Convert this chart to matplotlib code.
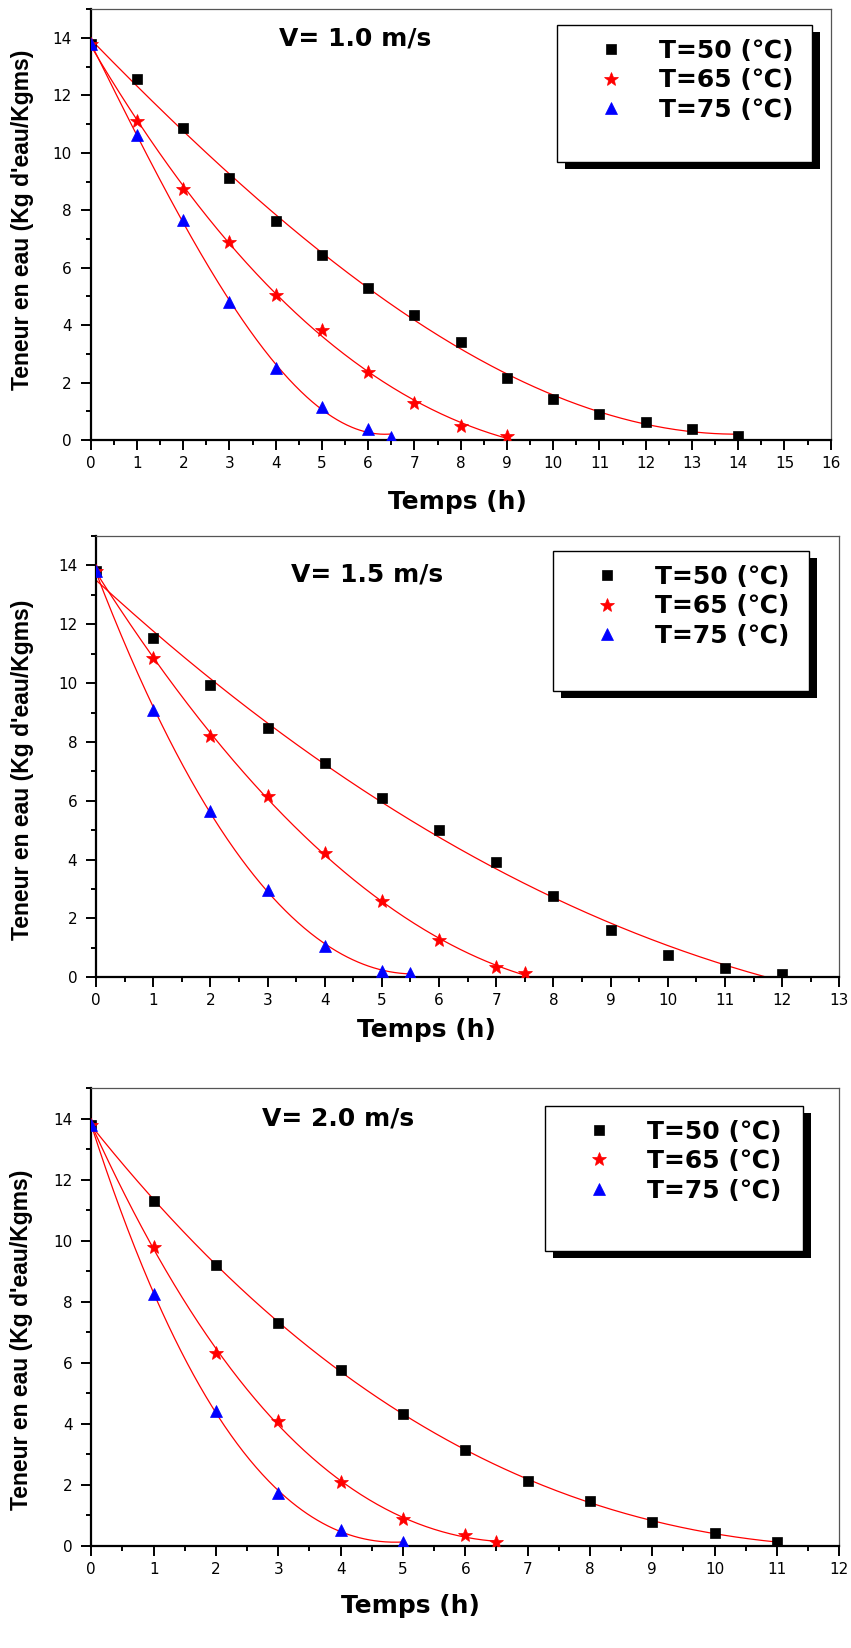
import numpy as np
import matplotlib.pyplot as plt
from matplotlib.patches import Rectangle
from matplotlib.transforms import Affine2D

W, H = 851, 1648

# drying kinetics, V = 1.0 m/s
t1_50 = [0, 1, 2, 3, 4, 5, 6, 7, 8, 9, 10, 11, 12, 13, 14]
x1_50 = [13.8, 12.58, 10.87, 9.14, 7.64, 6.46, 5.31, 4.34, 3.42, 2.17, 1.42, 0.89, 0.62, 0.39, 0.15]
t1_65 = [0, 1, 2, 3, 4, 5, 6, 7, 8, 9]
x1_65 = [13.8, 11.1, 8.74, 6.89, 5.05, 3.83, 2.38, 1.28, 0.50, 0.15]
t1_75 = [0, 1, 2, 3, 4, 5, 6, 6.5]
x1_75 = [13.8, 10.63, 7.65, 4.81, 2.52, 1.14, 0.37, 0.12]

# V = 1.5 m/s
t2_50 = [0, 1, 2, 3, 4, 5, 6, 7, 8, 9, 10, 11, 12]
x2_50 = [13.8, 11.53, 9.92, 8.49, 7.27, 6.10, 4.99, 3.93, 2.77, 1.60, 0.77, 0.33, 0.11]
t2_65 = [0, 1, 2, 3, 4, 5, 6, 7, 7.5]
x2_65 = [13.8, 10.87, 8.19, 6.15, 4.22, 2.59, 1.27, 0.34, 0.14]
t2_75 = [0, 1, 2, 3, 4, 5, 5.5]
x2_75 = [13.8, 9.09, 5.65, 2.97, 1.08, 0.23, 0.14]

# V = 2.0 m/s
t3_50 = [0, 1, 2, 3, 4, 5, 6, 7, 8, 9, 10, 11]
x3_50 = [13.8, 11.32, 9.21, 7.32, 5.78, 4.33, 3.15, 2.14, 1.46, 0.79, 0.44, 0.12]
t3_65 = [0, 1, 2, 3, 4, 5, 6, 6.5]
x3_65 = [13.8, 9.79, 6.34, 4.11, 2.09, 0.89, 0.36, 0.12]
t3_75 = [0, 1, 2, 3, 4, 5]
x3_75 = [13.8, 8.26, 4.44, 1.73, 0.52, 0.12]

labels = ["T=50 (\u2103)", "T=65 (\u2103)", "T=75 (\u2103)"]
titles = ["V= 1.0 m/s", "V= 1.5 m/s", "V= 2.0 m/s"]
xmax = [16, 13, 12]

series = [
    [(t1_50, x1_50), (t1_65, x1_65), (t1_75, x1_75)],
    [(t2_50, x2_50), (t2_65, x2_65), (t2_75, x2_75)],
    [(t3_50, x3_50), (t3_65, x3_65), (t3_75, x3_75)],
]

# layout in pixels (left, top, right, bottom), origin top-left
ax_box = [(90.7, 9.3, 830.7, 440), (96, 536, 839.3, 977.3), (91.3, 1088.3, 839.3, 1546)]
title_xy = [(355, 38), (367, 574), (338.5, 1118.5)]
ylab_xy = [(23, 220), (22.5, 769.5), (22, 1340)]
xlab_xy = [(457.5, 502), (426.5, 1030), (410, 1606)]
leg_box = [(556.7, 25, 811.7, 162), (552.7, 551, 809, 691), (545, 1105.7, 802.7, 1250.7)]

styles = [
    dict(marker="s", color="black", ms=7),
    dict(marker="*", color="red", ms=10),
    dict(marker="^", color="blue", ms=8.5),
]

fig = plt.figure(figsize=(W / 100, H / 100), dpi=100)
pix = Affine2D().scale(1 / W, -1 / H).translate(0, 1) + fig.transFigure

for i in range(3):
    l, t, r, b = ax_box[i]
    ax = fig.add_axes([l / W, 1 - b / H, (r - l) / W, (b - t) / H])

    handles = []
    for (tt, xx), st, lab in zip(series[i], styles, labels):
        h, = ax.plot(tt, xx, linestyle="none", marker=st["marker"], color=st["color"],
                     markersize=st["ms"], markeredgewidth=0.5, label=lab, zorder=3)
        handles.append(h)
        # third-order polynomial fit of each drying curve
        coef = np.polyfit(tt, xx, 3)
        tf = np.linspace(0, tt[-1], 300)
        ax.plot(tf, np.polyval(coef, tf), color="red", lw=0.9, zorder=2)

    ax.set_xlim(0, xmax[i])
    ax.set_ylim(0, 15)
    ax.set_xticks(np.arange(0, xmax[i] + 1, 1))
    ax.set_xticks(np.arange(0.5, xmax[i], 1), minor=True)
    ax.set_yticks([0, 2, 4, 6, 8, 10, 12, 14])
    ax.set_yticks([1, 3, 5, 7, 9, 11, 13, 15], minor=True)
    ax.tick_params(which="major", direction="out", length=7.5, width=1.4, labelsize=11, pad=4)
    ax.tick_params(axis="y", which="major", pad=6)
    ax.tick_params(which="minor", direction="out", length=3.5, width=1.4)
    ax.tick_params(top=False, right=False)
    for s in ["left", "bottom"]:
        ax.spines[s].set_linewidth(1.6)
    for s in ["top", "right"]:
        ax.spines[s].set_linewidth(0.9)
        ax.spines[s].set_color("#555555")

    fig.text(*title_xy[i], titles[i], transform=pix, ha="center", va="center",
             fontsize=18, fontweight="bold", family="DejaVu Sans")
    fig.text(*ylab_xy[i], "Teneur en eau (Kg d'eau/Kgms)", transform=pix, ha="center",
             va="center", rotation=90, fontsize=16.5, fontweight="bold", family="Liberation Sans")
    fig.text(*xlab_xy[i], "Temps (h)", transform=pix, ha="center", va="center",
             fontsize=18, fontweight="bold", family="DejaVu Sans")

    # legend frame with a solid drop shadow
    x0, y0, x1, y1 = leg_box[i]
    shadow = Rectangle((x0 + 8, y0 + 7), x1 - x0, y1 - y0, transform=pix,
                       facecolor="black", edgecolor="none", zorder=6, clip_on=False)
    frame = Rectangle((x0, y0), x1 - x0, y1 - y0, transform=pix,
                      facecolor="white", edgecolor="black", lw=1.0, zorder=7, clip_on=False)
    ax.add_patch(shadow)
    ax.add_patch(frame)
    leg = ax.legend(handles=handles, loc="upper left", bbox_to_anchor=(x0 + 42, y0 + 14),
                    bbox_transform=pix, frameon=False, borderpad=0, borderaxespad=0,
                    handlelength=0.95, handletextpad=1.45, labelspacing=0.22,
                    prop=dict(family="DejaVu Sans", weight="bold", size=18))
    leg.set_zorder(8)

fig.savefig("out.png", dpi=100)
